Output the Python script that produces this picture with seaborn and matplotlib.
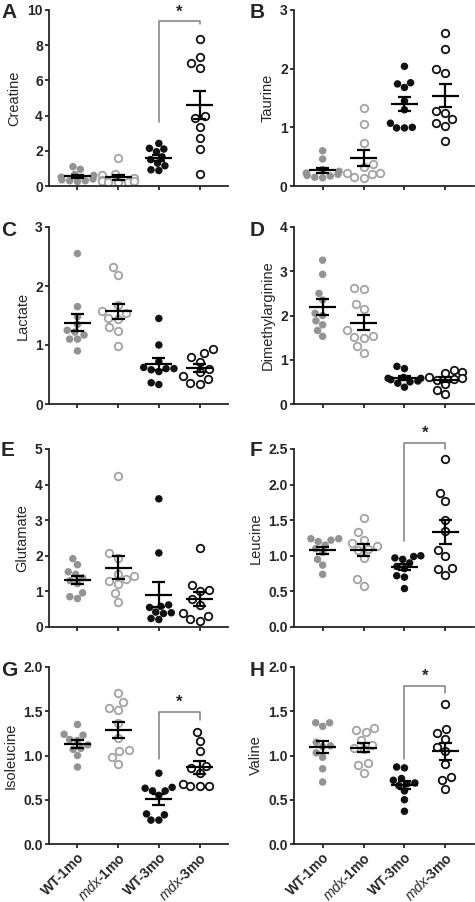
import numpy as np
import pandas as pd
import matplotlib
matplotlib.use("Agg")
import matplotlib.pyplot as plt
import seaborn as sns

groups = ["WT-1mo", "mdx-1mo", "WT-3mo", "mdx-3mo"]
group_labels = ["WT-1mo", r"$\mathit{mdx}$-1mo", "WT-3mo", r"$\mathit{mdx}$-3mo"]
point_colors = ["#939393", "#a3a3a3", "#111111", "#111111"]

# values, one list per group (WT-1mo, mdx-1mo, WT-3mo, mdx-3mo)
creatine = [
    [1.1, 0.95, 0.65, 0.6, 0.5, 0.4, 0.35, 0.3, 0.25, 0.3],
    [1.6, 0.7, 0.6, 0.45, 0.35, 0.3, 0.25, 0.2, 0.2, 0.3],
    [2.42, 2.14, 2.1, 1.95, 1.65, 1.5, 1.3, 1.15, 0.92, 0.88],
    [8.33, 7.35, 7.0, 6.72, 4.0, 3.85, 3.37, 2.7, 2.1, 0.68],
]
taurine = [
    [0.6, 0.46, 0.28, 0.25, 0.22, 0.2, 0.18, 0.17, 0.15, 0.14],
    [1.33, 1.06, 0.73, 0.38, 0.32, 0.23, 0.22, 0.2, 0.15, 0.13],
    [2.04, 1.76, 1.74, 1.68, 1.45, 1.3, 1.07, 1.0, 0.99, 0.99],
    [2.6, 2.34, 1.99, 1.93, 1.27, 1.25, 1.14, 1.08, 1.03, 0.77],
]
lactate = [
    [2.55, 1.65, 1.48, 1.35, 1.25, 1.22, 1.17, 1.1, 1.1, 0.9],
    [2.32, 2.19, 1.68, 1.57, 1.54, 1.46, 1.44, 1.3, 1.23, 0.99],
    [1.45, 1.0, 0.72, 0.62, 0.6, 0.6, 0.58, 0.55, 0.36, 0.33],
    [0.93, 0.86, 0.8, 0.72, 0.6, 0.55, 0.47, 0.42, 0.36, 0.34],
]
dimethylarginine = [
    [3.25, 2.93, 2.5, 2.35, 2.05, 2.0, 1.88, 1.79, 1.66, 1.53],
    [2.63, 2.6, 2.27, 2.15, 1.67, 1.53, 1.52, 1.5, 1.3, 1.15],
    [0.85, 0.8, 0.6, 0.58, 0.58, 0.52, 0.55, 0.5, 0.47, 0.38],
    [0.77, 0.72, 0.7, 0.6, 0.58, 0.56, 0.55, 0.45, 0.32, 0.23],
]
glutamate = [
    [1.92, 1.75, 1.55, 1.48, 1.38, 1.3, 1.22, 0.96, 0.85, 0.8],
    [4.25, 2.07, 1.95, 1.5, 1.42, 1.35, 1.3, 1.2, 0.95, 0.7],
    [3.6, 2.08, 0.62, 0.58, 0.55, 0.42, 0.4, 0.38, 0.24, 0.21],
    [2.22, 1.17, 1.03, 1.02, 0.78, 0.62, 0.4, 0.3, 0.22, 0.16],
]
leucine = [
    [1.24, 1.24, 1.22, 1.2, 1.15, 1.05, 1.1, 0.95, 0.87, 0.74],
    [1.53, 1.33, 1.22, 1.18, 1.14, 1.1, 1.08, 0.97, 0.68, 0.58],
    [1.0, 0.99, 0.97, 0.95, 0.9, 0.85, 0.82, 0.72, 0.7, 0.54],
    [2.36, 1.88, 1.77, 1.5, 1.35, 1.08, 1.0, 0.83, 0.82, 0.73],
]
isoleucine = [
    [1.35, 1.24, 1.23, 1.18, 1.17, 1.12, 1.08, 1.07, 1.0, 0.87],
    [1.71, 1.6, 1.54, 1.51, 1.37, 1.2, 1.06, 1.05, 0.98, 0.9],
    [0.8, 0.64, 0.63, 0.6, 0.6, 0.55, 0.34, 0.33, 0.27, 0.27],
    [1.26, 1.16, 1.05, 0.88, 0.86, 0.8, 0.68, 0.66, 0.65, 0.65],
]
valine = [
    [1.37, 1.37, 1.33, 1.15, 1.11, 1.1, 1.03, 0.98, 0.85, 0.7],
    [1.31, 1.29, 1.26, 1.17, 1.12, 1.08, 1.07, 0.91, 0.89, 0.8],
    [0.87, 0.86, 0.74, 0.72, 0.69, 0.68, 0.66, 0.6, 0.5, 0.37],
    [1.58, 1.3, 1.25, 1.19, 1.1, 1.05, 0.9, 0.76, 0.72, 0.62],
]

# letter, y label, data, ymax, tick step, decimals, bracket (left leg, top, right leg, star)
panels = [
    ("A", "Creatine", creatine, 10, 2, 0, (3.64, 9.38, 9.2, 9.85)),
    ("B", "Taurine", taurine, 3, 1, 0, None),
    ("C", "Lactate", lactate, 3, 1, 0, None),
    ("D", "Dimethylarginine", dimethylarginine, 4, 1, 0, None),
    ("E", "Glutamate", glutamate, 5, 1, 0, None),
    ("F", "Leucine", leucine, 2.5, 0.5, 1, (1.21, 2.585, 2.5, 2.72)),
    ("G", "Isoleucine", isoleucine, 2.0, 0.5, 1, (0.96, 1.49, 1.40, 1.60)),
    ("H", "Valine", valine, 2.0, 0.5, 1, (0.96, 1.785, 1.71, 1.90)),
]

sns.set_style("ticks")
plt.rcParams["font.family"] = ["Liberation Sans", "DejaVu Sans"]
plt.rcParams["mathtext.fontset"] = "custom"
plt.rcParams["mathtext.it"] = "Liberation Sans:italic"
plt.rcParams["mathtext.rm"] = "Liberation Sans"

W, H = 475, 902
fig = plt.figure(figsize=(W / 100, H / 100), dpi=100)

# axes boxes in pixels
rows = [(10, 186), (227, 404), (449, 627), (667, 844)]
cols = [(49, 228), (294, 474)]
letter_base = [18, 236, 456, 676]
letter_x = [1, 250]

for i, (letter, name, vals, ymax, step, dec, br) in enumerate(panels):
    r, c = divmod(i, 2)
    top, bot = rows[r]
    left, right = cols[c]
    ax = fig.add_axes([left / W, 1 - bot / H, (right - left) / W, (bot - top) / H])

    df = pd.DataFrame({
        "group": np.repeat(groups, [len(v) for v in vals]),
        "value": np.concatenate(vals),
    })
    sns.swarmplot(data=df, x="group", y="value", order=groups, hue="group",
                  hue_order=groups, palette=dict(zip(groups, point_colors)),
                  size=5.4, legend=False, ax=ax, zorder=2)

    # open circles for mdx groups
    for coll in ax.collections:
        offs = coll.get_offsets()
        if len(offs) == 0:
            continue
        gi = int(round(np.mean(offs[:, 0])))
        if groups[gi].startswith("mdx"):
            coll.set_facecolor("white")
            coll.set_edgecolor(point_colors[gi])
            coll.set_linewidth(1.3)

    # mean +/- SEM
    for gi, v in enumerate(vals):
        m = np.mean(v)
        s = np.std(v, ddof=1) / np.sqrt(len(v))
        ax.hlines(m, gi - 0.33, gi + 0.33, color="black", lw=1.6, zorder=4)
        ax.hlines([m - s, m + s], gi - 0.16, gi + 0.16, color="black", lw=1.6, zorder=4)
        ax.vlines(gi, m - s, m + s, color="black", lw=1.6, zorder=4)

    if br:
        ly, ty, ry, sy = br
        ax.plot([2, 2, 3, 3], [ly, ty, ty, ry], color="#7f7f7f", lw=1.1,
                clip_on=False, zorder=3)
        ax.text(2.5, sy, "*", ha="center", va="center", fontsize=12,
                fontweight="bold", clip_on=False)

    yt = np.arange(0, ymax + 1e-9, step)
    ax.set_ylim(0, ymax)
    ax.set_yticks(yt, labels=[f"{t:.{dec}f}" for t in yt], fontweight="bold", fontsize=10)
    ax.set_xlim(-0.7, 3.7)
    if r == 3:
        ax.set_xticks(range(4), labels=group_labels, rotation=45, ha="right",
                      rotation_mode="anchor", fontweight="bold", fontsize=10)
    else:
        ax.set_xticks(range(4), labels=[])
    ax.set_xlabel("")
    ax.set_ylabel(name, fontsize=10.5, labelpad=4)

    sns.despine(ax=ax)
    for sp in ["left", "bottom"]:
        ax.spines[sp].set_linewidth(1.3)
    ax.tick_params(length=3, width=1.3, pad=1.5)

    fig.text(letter_x[c] / W, 1 - letter_base[r] / H, letter, fontsize=15,
             fontweight="bold", ha="left", va="baseline")

fig.savefig("out.png", dpi=100)
